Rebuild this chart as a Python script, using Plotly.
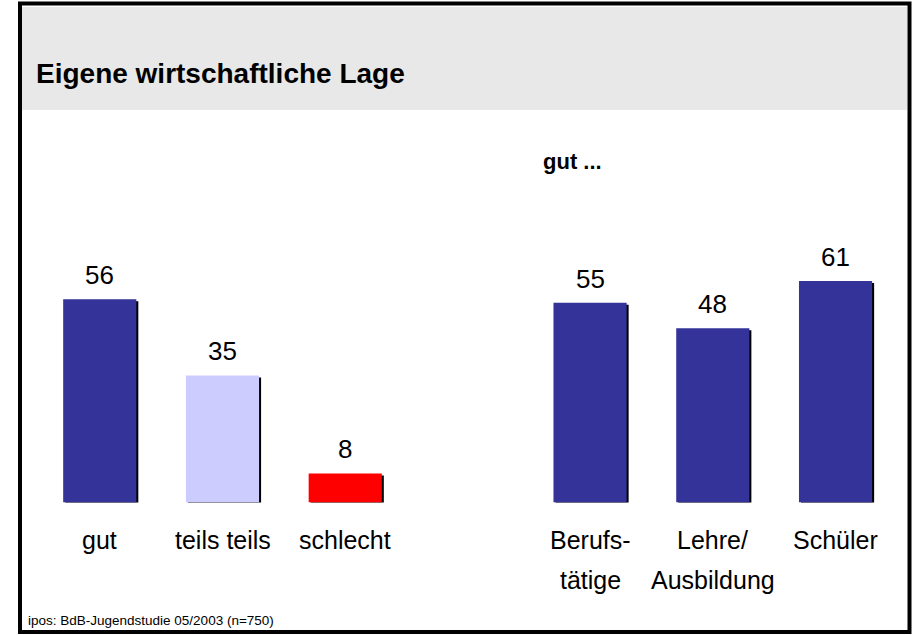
import plotly.graph_objects as go

# ---- data ----
left_categories = ["gut", "teils teils", "schlecht"]
left_values = [56, 35, 8]
left_colors = ["#333399", "#CCCCFF", "#FF0000"]

right_categories = ["Berufs-<br>tätige", "Lehre/<br>Ausbildung", "Schüler"]
right_values = [55, 48, 61]
right_colors = ["#333399", "#333399", "#333399"]

title_text = "Eigene wirtschaftliche Lage"
subtitle_text = "gut ..."
source_text = "ipos: BdB-Jugendstudie 05/2003 (n=750)"

# ---- layout constants ----
W, H = 912, 635
FONT = "Liberation Sans, Arial, sans-serif"
BAR_W = 0.596
PX_PER_CAT = 122.75
PX_PER_UNIT = 3.63
SHADOW_PX = 2
Y_MAX = 70
BASE_Y_PX = 502.5

def px_x(p):
    return p / W

def px_y(p):
    return 1 - p / H

fig = go.Figure()

def add_group(cats, vals, cols, xa, ya):
    shadow_off = -BAR_W / 2 + SHADOW_PX / PX_PER_CAT
    shadow_base = -SHADOW_PX / PX_PER_UNIT
    fig.add_trace(go.Bar(
        x=cats, y=vals, base=[shadow_base] * len(vals), width=BAR_W, offset=shadow_off,
        marker=dict(color="black", line=dict(width=0)), xaxis=xa, yaxis=ya,
        hoverinfo="skip", showlegend=False))
    fig.add_trace(go.Bar(
        x=cats, y=vals, width=BAR_W, offset=-BAR_W / 2,
        marker=dict(color=cols, line=dict(width=0)), xaxis=xa, yaxis=ya,
        showlegend=False))
    xref = "x" if xa == "x" else "x2"
    yref = "y" if ya == "y" else "y2"
    for c, v in zip(cats, vals):
        fig.add_annotation(x=c, y=v, xref=xref, yref=yref, text=str(v),
                           showarrow=False, yanchor="bottom", yshift=7,
                           font=dict(family=FONT, size=26, color="black"))
        for i, line in enumerate(c.split("<br>")):
            fig.add_annotation(x=c, y=0, xref=xref, yref=yref, text=line,
                               showarrow=False, yanchor="middle",
                               yshift=-37 - 40 * i,
                               font=dict(family=FONT, size=25, color="black"))

add_group(left_categories, left_values, left_colors, "x", "y")
add_group(right_categories, right_values, right_colors, "x2", "y2")

c = 1.5 * PX_PER_CAT
left_center, right_center = 222.5, 712.8
y_dom = [(H - BASE_Y_PX) / H, (H - BASE_Y_PX + Y_MAX * PX_PER_UNIT) / H]
axis_common = dict(showgrid=False, zeroline=False, showticklabels=False,
                   showline=False, ticks="", fixedrange=True)

fig.update_layout(
    width=W, height=H,
    margin=dict(l=0, r=0, t=0, b=0),
    paper_bgcolor="white", plot_bgcolor="rgba(0,0,0,0)",
    barmode="overlay",
    showlegend=False,
    xaxis=dict(domain=[px_x(left_center - c), px_x(left_center + c)],
               range=[-0.5, 2.5], type="category", anchor="y", **axis_common),
    yaxis=dict(domain=y_dom, range=[0, Y_MAX], anchor="x", **axis_common),
    xaxis2=dict(domain=[px_x(right_center - c), px_x(right_center + c)],
                range=[-0.5, 2.5], type="category", anchor="y2", **axis_common),
    yaxis2=dict(domain=y_dom, range=[0, Y_MAX], anchor="x2", **axis_common),
    font=dict(family=FONT, color="black"),
    shapes=[
        dict(type="rect", xref="paper", yref="paper", layer="below",
             x0=px_x(22), x1=px_x(907), y0=px_y(110), y1=px_y(7),
             fillcolor="#E8E8E8", line=dict(width=0)),
        dict(type="rect", xref="paper", yref="paper", layer="above",
             x0=px_x(20), x1=px_x(909.5), y0=px_y(632), y1=px_y(3.5),
             fillcolor="rgba(0,0,0,0)", line=dict(color="black", width=4)),
    ],
)

fig.add_annotation(xref="paper", yref="paper", x=px_x(34), y=px_y(73),
                   xanchor="left", yanchor="middle", showarrow=False,
                   text="<b>" + title_text + "</b>",
                   font=dict(family=FONT, size=28, color="black"))
fig.add_annotation(xref="paper", yref="paper", x=px_x(541), y=px_y(161),
                   xanchor="left", yanchor="middle", showarrow=False,
                   text="<b>" + subtitle_text + "</b>",
                   font=dict(family=FONT, size=22, color="black"))
fig.add_annotation(xref="paper", yref="paper", x=px_x(26), y=px_y(620),
                   xanchor="left", yanchor="middle", showarrow=False,
                   text=source_text,
                   font=dict(family=FONT, size=13.5, color="black"))

fig.write_html("out.html",
               config={"displayModeBar": False},
               post_script="document.body.style.margin='0';document.body.style.overflow='hidden';")
